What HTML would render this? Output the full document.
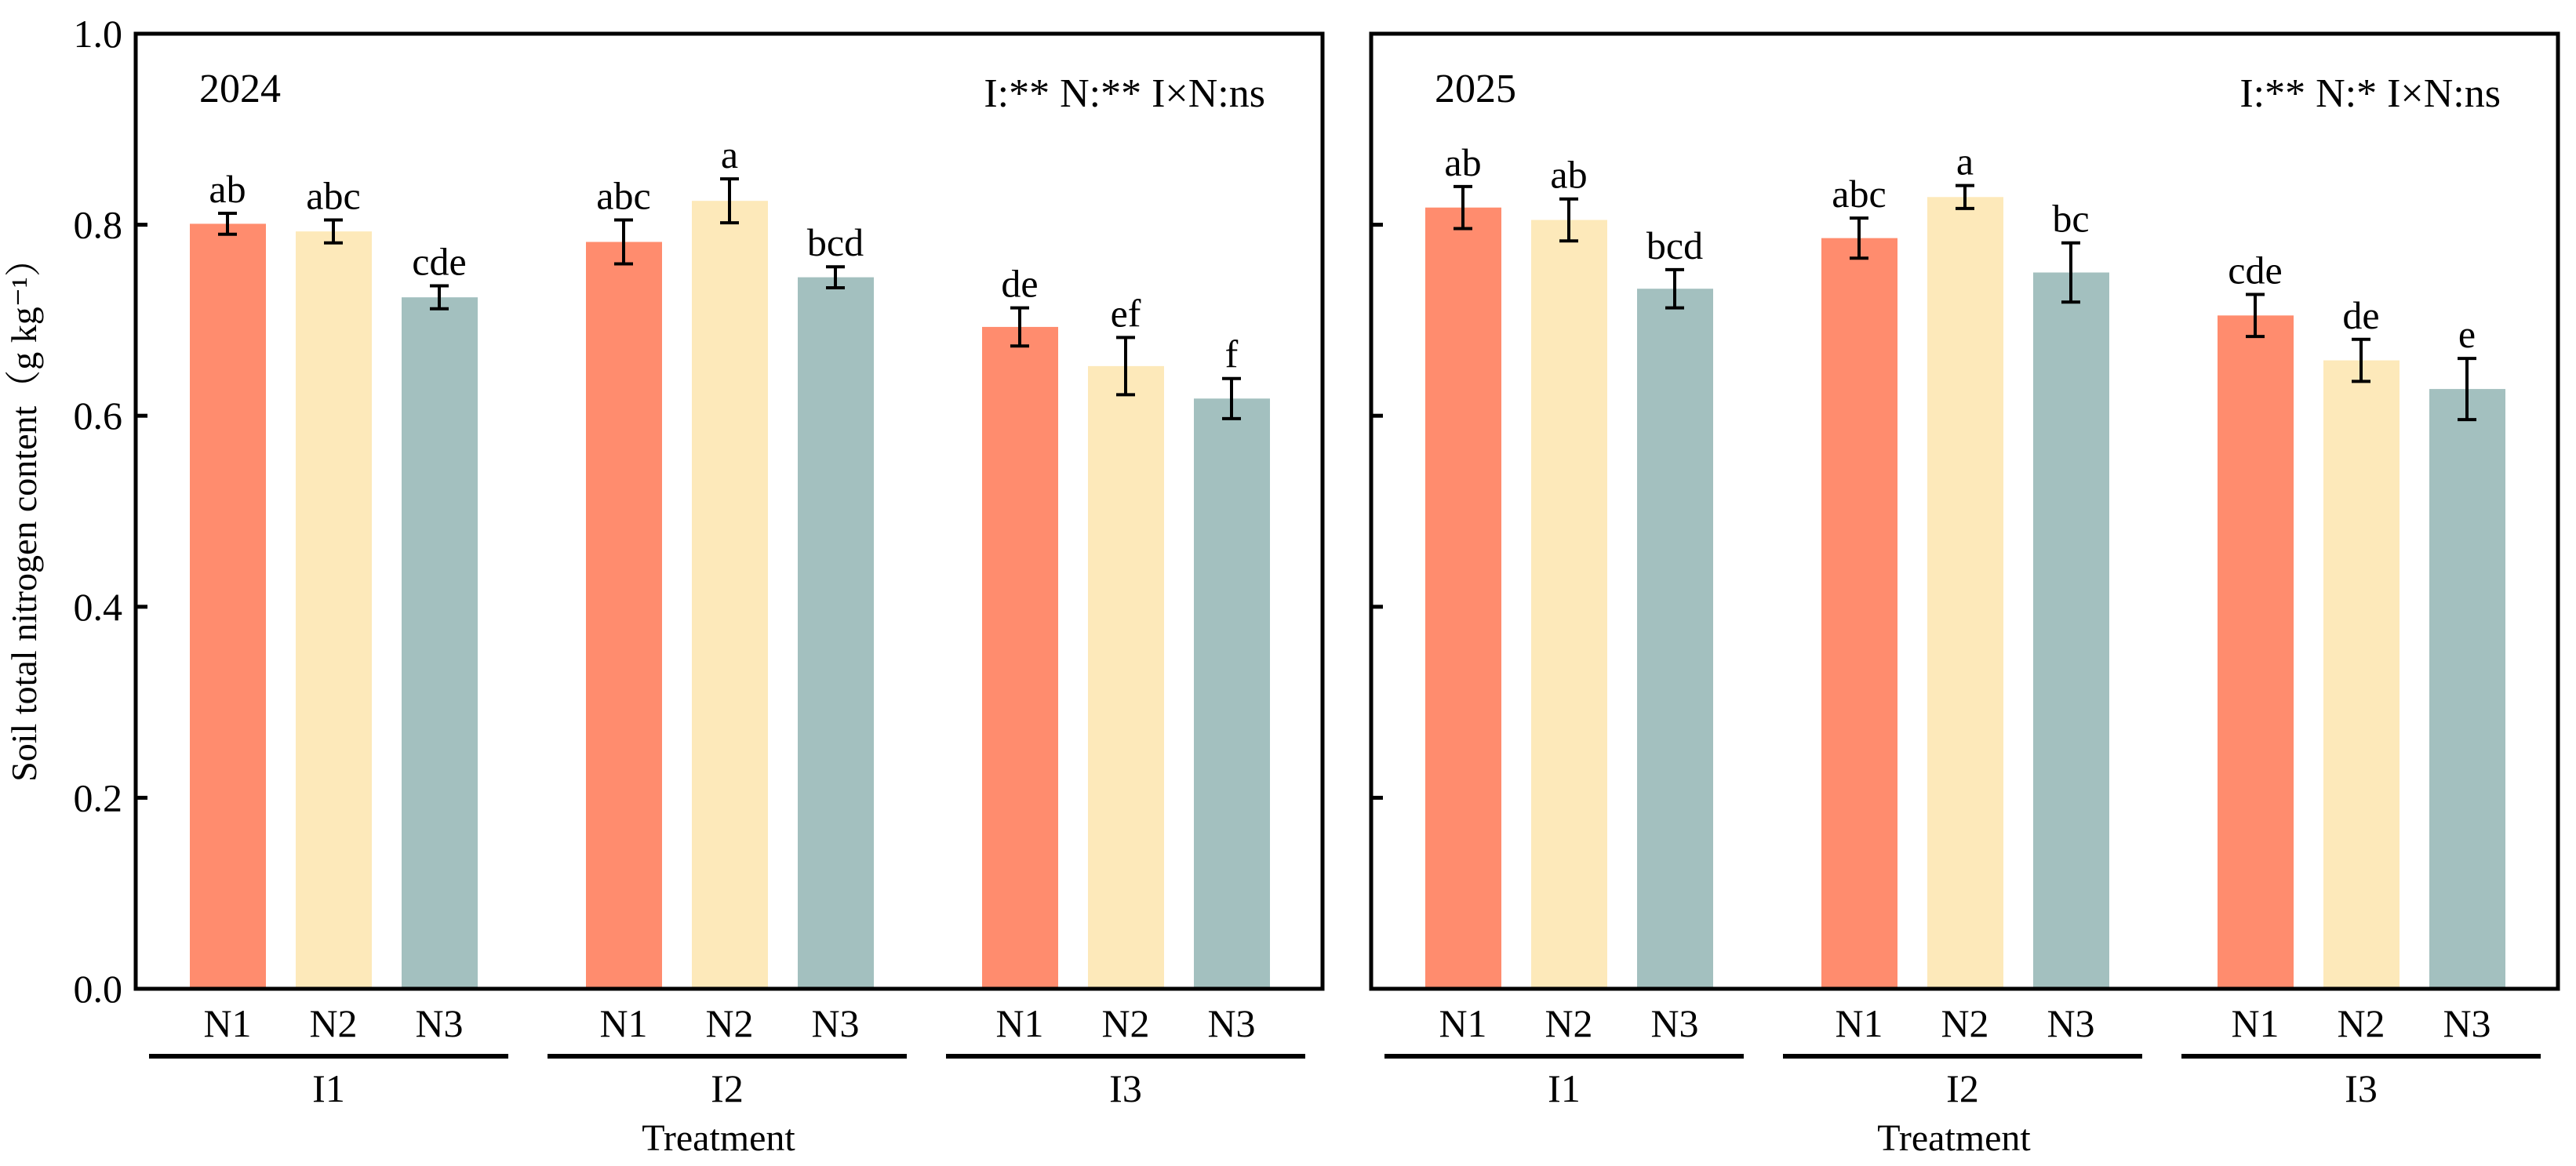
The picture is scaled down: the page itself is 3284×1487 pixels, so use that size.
<!DOCTYPE html>
<html><head><meta charset="utf-8"><style>
html,body{margin:0;padding:0;background:#fff;}
svg{display:block;}
text{font-family:"Liberation Serif","Noto Serif CJK SC",serif;fill:#000;}
</style></head><body>
<svg id="chart" width="3284" height="1487" viewBox="0 0 3284 1487" xmlns="http://www.w3.org/2000/svg"></svg>
<script>
const groups = ["I1","I2","I3"];
const nLevels = ["N1","N2","N3"];
const years = ["2024","2025"];
const stats = ["I:** N:** I×N:ns","I:** N:* I×N:ns"];
const values2024 = [0.801,0.793,0.724, 0.782,0.825,0.745, 0.693,0.652,0.618];
const errors2024 = [0.011,0.012,0.012, 0.023,0.023,0.011, 0.020,0.030,0.021];
const letters2024 = ["ab","abc","cde","abc","a","bcd","de","ef","f"];
const values2025 = [0.818,0.805,0.733, 0.786,0.829,0.750, 0.705,0.658,0.628];
const errors2025 = [0.022,0.022,0.020, 0.021,0.012,0.031, 0.022,0.022,0.032];
const letters2025 = ["ab","ab","bcd","abc","a","bc","cde","de","e"];
const yTicks = [0.0,0.2,0.4,0.6,0.8,1.0];
const yTickLabels = ["0.0","0.2","0.4","0.6","0.8","1.0"];

const svg = document.getElementById('chart');
const NS = "http://www.w3.org/2000/svg";
const colors = ["#FF8C6E","#FDE9BA","#A3C0BF"];
const Y0 = 1261, YTOP = 43, PW = 1513;
function yScale(v){ return Y0 - (v/1.0)*(Y0-YTOP); }
function xCenter(px, i){ const g=Math.floor(i/3), k=i%3; return px + 117 + g*505 + k*135; }
function el(tag, attrs, parent){ const e=document.createElementNS(NS,tag); for(const k in attrs) e.setAttribute(k,attrs[k]); (parent||svg).appendChild(e); return e; }

const panels = [
  {x:173, vals:values2024, errs:errors2024, lets:letters2024, year:years[0], stat:stats[0], labels:true},
  {x:1748, vals:values2025, errs:errors2025, lets:letters2025, year:years[1], stat:stats[1], labels:false}
];
panels.forEach((p, pi) => {
  const g = el('g', {});
  
  
  // bars
  p.vals.forEach((v, i) => {
    const cx = xCenter(p.x, i);
    const r = el('rect', {x:cx-48, y:yScale(v), width:97, height:Y0-yScale(v), fill:colors[i%3]}, g);
    
    
    const top = yScale(v + p.errs[i]), bot = yScale(v - p.errs[i]);
    const eb = el('path', {d:`M${cx},${top}V${bot}M${cx-12},${top}H${cx+12}M${cx-12},${bot}H${cx+12}`, stroke:'#000', 'stroke-width':4, fill:'none'}, g);
    
    
    const t = el('text', {x:cx, y:top-14, 'font-size':50, 'text-anchor':'middle'}, g);
    t.textContent = p.lets[i];
    
    
  });
  // frame
  const fr = el('rect', {x:p.x, y:YTOP, width:PW, height:Y0-YTOP, fill:'none', stroke:'#000', 'stroke-width':5}, g);
  
  
  // ticks
  yTicks.forEach((tv, ti) => {
    const ty = yScale(tv);
    const tk = el('line', {x1:p.x, x2:p.x+15, y1:ty, y2:ty, stroke:'#000', 'stroke-width':5}, g);
    
    
    if (p.labels) {
      const tl = el('text', {x:156, y:ty+17, 'font-size':50, 'text-anchor':'end'}, g);
      tl.textContent = yTickLabels[ti];
      
      
    }
  });
  // year + stats
  const yr = el('text', {x:p.x+81, y:130, 'font-size':52}, g);
  yr.textContent = p.year;
  
  
  const st = el('text', {x:p.x+PW-73, y:136, 'font-size':52, 'text-anchor':'end'}, g);
  st.textContent = p.stat;
  
  
  // x labels
  for (let i=0;i<9;i++){
    const xl = el('text', {x:xCenter(p.x,i), y:1322, 'font-size':50, 'text-anchor':'middle'}, g);
    xl.textContent = nLevels[i%3];
    
    
  }
  groups.forEach((gn, gi) => {
    const gx0 = p.x + 17 + gi*508, gx1 = gx0 + 458;
    const gl = el('line', {x1:gx0, x2:gx1, y1:1347, y2:1347, stroke:'#000', 'stroke-width':6}, g);
    
    
    const gt = el('text', {x:(gx0+gx1)/2, y:1405, 'font-size':50, 'text-anchor':'middle'}, g);
    gt.textContent = gn;
    
    
  });
  const tt = el('text', {x:p.x+743, y:1467, 'font-size':48, 'text-anchor':'middle'}, g);
  tt.textContent = 'Treatment';
  
  
});
const yt = el('text', {x:0, y:0, 'font-size':46, 'text-anchor':'middle', transform:'translate(46,652) rotate(-90)'});
yt.textContent = 'Soil total nitrogen content（g kg⁻¹）';


</script>
</body></html>
